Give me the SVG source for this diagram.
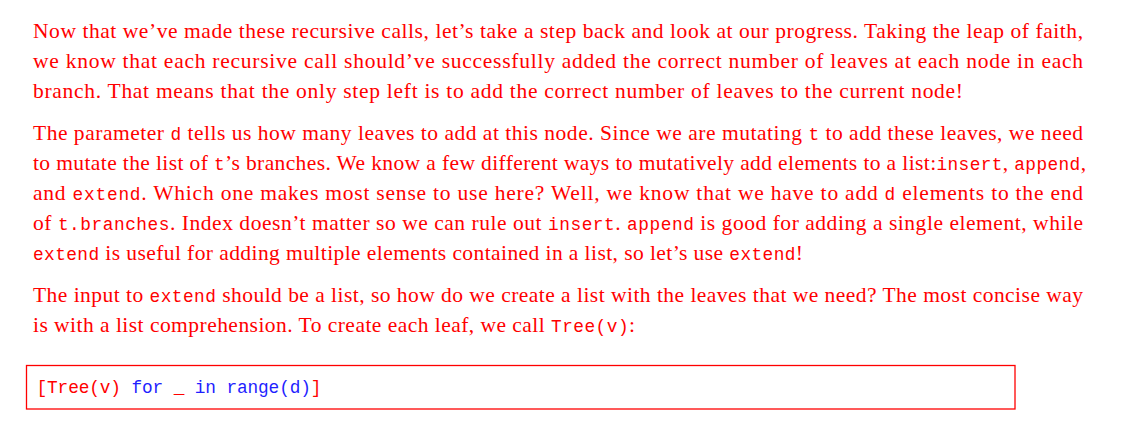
<svg xmlns="http://www.w3.org/2000/svg" width="1130" height="432" viewBox="0 0 1130 432">
<style>
.t{font-family:"Liberation Serif","Times New Roman",serif;font-size:21.5px;fill:#ff0000}
.m{font-family:"Liberation Mono","Courier New",monospace;font-size:17.8px}
.k{fill:#1f1fff}
.box{fill:none;stroke:#ff0000;stroke-width:1.3}
</style>
<rect width="1130" height="432" fill="#ffffff"/>
<g id="para1">
<text class="t" x="33" y="38" textLength="1050" lengthAdjust="spacing">Now that we’ve made these recursive calls, let’s take a step back and look at our progress. Taking the leap of faith,</text>
<text class="t" x="33" y="68" textLength="1050" lengthAdjust="spacing">we know that each recursive call should’ve successfully added the correct number of leaves at each node in each</text>
<text class="t" x="33" y="98" textLength="930" lengthAdjust="spacing">branch. That means that the only step left is to add the correct number of leaves to the current node!</text>
</g>
<g id="para2">
<text class="t" x="33" y="140" textLength="1050" lengthAdjust="spacing">The parameter <tspan class="m">d</tspan> tells us how many leaves to add at this node. Since we are mutating <tspan class="m">t</tspan> to add these leaves, we need</text>
<text class="t" x="33" y="170" textLength="1053" lengthAdjust="spacing">to mutate the list of <tspan class="m">t</tspan>’s branches. We know a few different ways to mutatively add elements to a list:<tspan class="m">insert</tspan>, <tspan class="m">append</tspan>,</text>
<text class="t" x="33" y="200" textLength="1050" lengthAdjust="spacing">and <tspan class="m">extend</tspan>. Which one makes most sense to use here? Well, we know that we have to add <tspan class="m">d</tspan> elements to the end</text>
<text class="t" x="33" y="230" textLength="1050" lengthAdjust="spacing">of <tspan class="m">t.branches</tspan>. Index doesn’t matter so we can rule out <tspan class="m">insert</tspan>. <tspan class="m">append</tspan> is good for adding a single element, while</text>
<text class="t" x="33" y="260" textLength="770" lengthAdjust="spacing"><tspan class="m">extend</tspan> is useful for adding multiple elements contained in a list, so let’s use <tspan class="m">extend</tspan>!</text>
</g>
<g id="para3">
<text class="t" x="33" y="302" textLength="1050" lengthAdjust="spacing">The input to <tspan class="m">extend</tspan> should be a list, so how do we create a list with the leaves that we need? The most concise way</text>
<text class="t" x="33" y="332" textLength="602" lengthAdjust="spacing">is with a list comprehension. To create each leaf, we call <tspan class="m">Tree(v)</tspan>:</text>
</g>
<g id="code">
<rect class="box" x="26.5" y="365.5" width="988.5" height="43.5"/>
<text class="t m" x="36.5" y="393" textLength="285" lengthAdjust="spacing">[Tree(v) <tspan class="k">for</tspan> _ <tspan class="k">in</tspan> <tspan class="k">range(d)</tspan>]</text>
</g>
</svg>
